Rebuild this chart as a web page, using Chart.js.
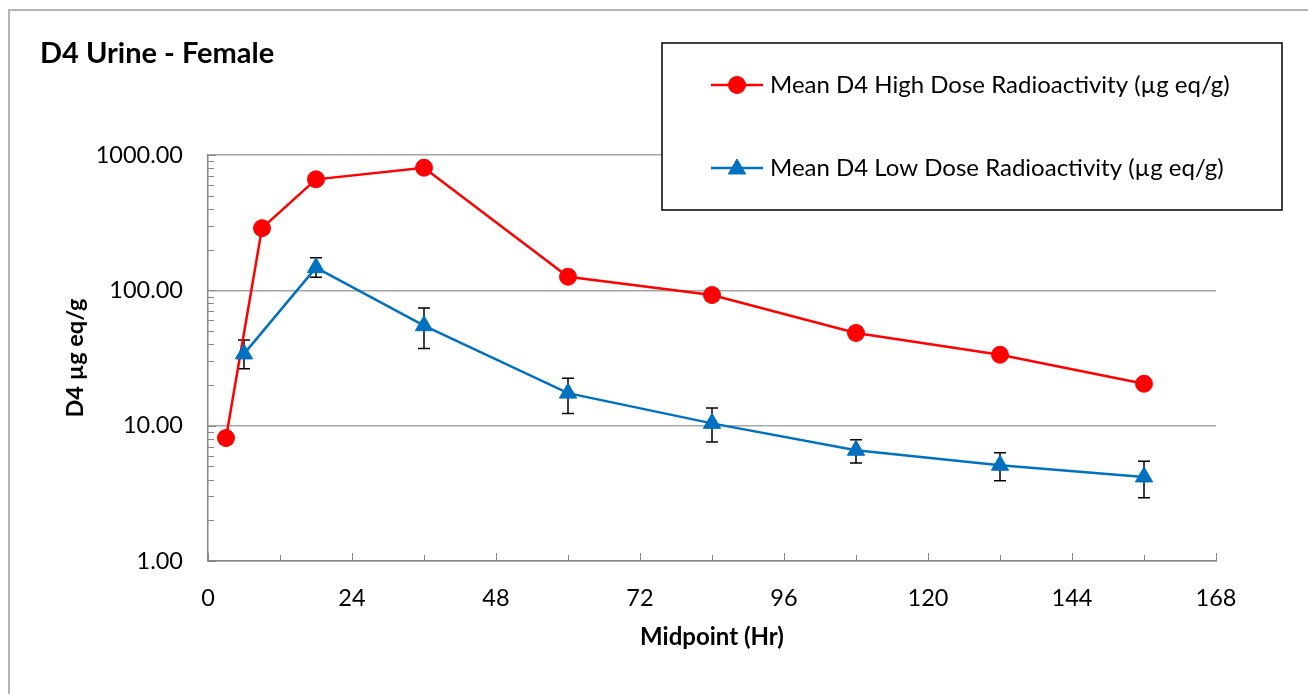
<!DOCTYPE html>
<html>
<head>
<meta charset="utf-8">
<script src="https://cdn.jsdelivr.net/npm/chart.js@4/dist/chart.umd.min.js"></script>
<style>
  html, body { margin: 0; padding: 0; background: #fff; }
  #wrap { position: relative; width: 1308px; height: 694px; }
  #frame { position: absolute; left: 8px; top: 9px; width: 1400px; height: 800px;
           border-left: 2px solid #b4b4b4; border-top: 2px solid #b4b4b4; pointer-events: none; }
  canvas { position: absolute; left: 0; top: 0; }
</style>
</head>
<body>
<div id="wrap">
  <canvas id="c" width="1308" height="694"></canvas>
  <div id="frame"></div>
</div>
<script>
// ---- data ----
const chartTitle = "D4 Urine - Female";
const xTitle = "Midpoint (Hr)";
const yTitle = "D4 µg eq/g";
const highLabel = "Mean D4 High Dose Radioactivity (µg eq/g)";
const lowLabel = "Mean D4 Low Dose Radioactivity (µg eq/g)";

const highHours = [3, 9, 18, 36, 60, 84, 108, 132, 156];
const highValues = [8.1, 288, 661, 805, 126, 92.3, 48.4, 33.4, 20.4];

const lowHours = [6, 18, 36, 60, 84, 108, 132, 156];
const lowValues = [33.9, 147, 54.8, 17.4, 10.4, 6.58, 5.10, 4.18];
const lowErrUpper = [43, 174, 74, 22.4, 13.5, 7.88, 6.32, 5.46];
const lowErrLower = [26.3, 125, 37.1, 12.3, 7.57, 5.30, 3.91, 2.93];

const xTicks = [0, 24, 48, 72, 96, 120, 144, 168];
const yMajorTicks = [1, 10, 100, 1000];

const FONT = "Lato, 'Open Sans', sans-serif";
const RED = "#ff0000";
const BLUE = "#0070c0";

const toPoints = (xs, ys) => xs.map((x, i) => ({ x: x, y: ys[i] }));

// error bars for low dose series
const errorBarPlugin = {
  id: "errorBars",
  beforeDatasetsDraw(chart) {
    const { ctx, scales: { x, y } } = chart;
    ctx.save();
    ctx.strokeStyle = "#000";
    ctx.lineWidth = 1.5;
    lowHours.forEach((h, i) => {
      const px = x.getPixelForValue(h);
      const top = y.getPixelForValue(lowErrUpper[i]);
      const bot = y.getPixelForValue(lowErrLower[i]);
      ctx.beginPath();
      ctx.moveTo(px, top); ctx.lineTo(px, bot);
      ctx.moveTo(px - 6, top); ctx.lineTo(px + 6, top);
      ctx.moveTo(px - 6, bot); ctx.lineTo(px + 6, bot);
      ctx.stroke();
    });
    ctx.restore();
  }
};

// inside tick marks, titles and boxed legend
const decorPlugin = {
  id: "decor",
  afterDraw(chart) {
    const { ctx, scales: { x, y }, chartArea } = chart;
    ctx.save();
    ctx.strokeStyle = "#868686";
    ctx.lineWidth = 1;
    // y minor/major ticks
    for (let d = 1; d <= 1000; d *= 10) {
      for (let k = 1; k <= 9; k++) {
        const v = k * d;
        if (v > 1000) break;
        const py = Math.round(y.getPixelForValue(v)) + 0.5;
        ctx.beginPath();
        ctx.moveTo(chartArea.left, py);
        ctx.lineTo(chartArea.left + (k === 1 ? 8 : 6), py);
        ctx.stroke();
      }
    }
    // x minor/major ticks
    for (let v = 0; v <= 168; v += 12) {
      const px = Math.round(x.getPixelForValue(v)) + 0.5;
      ctx.beginPath();
      ctx.moveTo(px, chartArea.bottom);
      ctx.lineTo(px, chartArea.bottom - (v % 24 === 0 ? 8 : 6));
      ctx.stroke();
    }

    // chart title
    ctx.fillStyle = "#000";
    ctx.font = "bold 29px " + FONT;
    ctx.textAlign = "left";
    ctx.textBaseline = "alphabetic";
    ctx.fillText(chartTitle, 40, 63);

    // axis titles
    ctx.textAlign = "center";
    ctx.textBaseline = "middle";
    ctx.font = "bold 24px " + FONT;
    ctx.fillText(xTitle, (chartArea.left + chartArea.right) / 2, 637);
    ctx.save();
    ctx.font = "bold 23.5px " + FONT;
    ctx.translate(75, (chartArea.top + chartArea.bottom) / 2);
    ctx.rotate(-Math.PI / 2);
    ctx.fillText(yTitle, 0, 0);
    ctx.restore();

    // legend box
    const bx = 662, by = 43, bw = 620, bh = 167;
    ctx.fillStyle = "#fff";
    ctx.fillRect(bx, by, bw, bh);
    ctx.strokeStyle = "#000";
    ctx.lineWidth = 1.5;
    ctx.strokeRect(bx, by, bw, bh);
    const items = [
      { label: highLabel, color: RED, style: "circle", r: 8.5, y: 85 },
      { label: lowLabel, color: BLUE, style: "triangle", r: 10, y: 168 }
    ];
    items.forEach(it => {
      ctx.strokeStyle = it.color;
      ctx.lineWidth = 2.5;
      ctx.beginPath();
      ctx.moveTo(711, it.y); ctx.lineTo(763, it.y);
      ctx.stroke();
      ctx.fillStyle = it.color;
      ctx.strokeStyle = it.color;
      ctx.lineWidth = 1;
      Chart.helpers.drawPoint(ctx, { pointStyle: it.style, radius: it.r, borderWidth: 1, rotation: 0 }, 737, it.style === "triangle" ? it.y + 1 : it.y);
      ctx.fillStyle = "#000";
      ctx.font = "24px " + FONT;
      ctx.textAlign = "left";
      ctx.textBaseline = "middle";
      ctx.fillText(it.label, 770, it.y);
    });
    ctx.restore();
  }
};

new Chart(document.getElementById("c"), {
  type: "line",
  data: {
    datasets: [
      {
        label: highLabel,
        data: toPoints(highHours, highValues),
        borderColor: RED, backgroundColor: RED,
        borderWidth: 2.5, pointStyle: "circle", pointRadius: 8.5,
        pointBorderWidth: 1, tension: 0, order: 1
      },
      {
        label: lowLabel,
        data: toPoints(lowHours, lowValues),
        borderColor: BLUE, backgroundColor: BLUE,
        borderWidth: 2.5, pointStyle: "triangle", pointRadius: 10,
        pointBorderWidth: 1, tension: 0, order: 0
      }
    ]
  },
  options: {
    responsive: false,
    animation: false,
    events: [],
    layout: { padding: { top: 155, right: 92, left: 0, bottom: 0 } },
    plugins: { legend: { display: false }, title: { display: false }, tooltip: { enabled: false } },
    scales: {
      x: {
        type: "linear", min: 0, max: 168,
        afterBuildTicks: s => { s.ticks = xTicks.map(v => ({ value: v })); },
        afterFit: s => { s.height = 133; },
        grid: { display: false, drawTicks: false },
        border: { display: true, color: "#868686", width: 1.5 },
        ticks: { color: "#000", font: { family: FONT, size: 23.5 }, padding: 23, maxRotation: 0, autoSkip: false }
      },
      y: {
        type: "logarithmic", min: 1, max: 1000,
        afterBuildTicks: s => { s.ticks = yMajorTicks.map(v => ({ value: v })); },
        afterFit: s => { s.width = 208; },
        grid: { color: "#a6a6a6", lineWidth: 1.5, drawTicks: false },
        border: { display: true, color: "#868686", width: 1.5 },
        ticks: {
          color: "#000", font: { family: FONT, size: 23.5 }, padding: 25, autoSkip: false,
          callback: v => Number(v).toFixed(2)
        }
      }
    }
  },
  plugins: [errorBarPlugin, decorPlugin]
});
</script>
</body>
</html>
